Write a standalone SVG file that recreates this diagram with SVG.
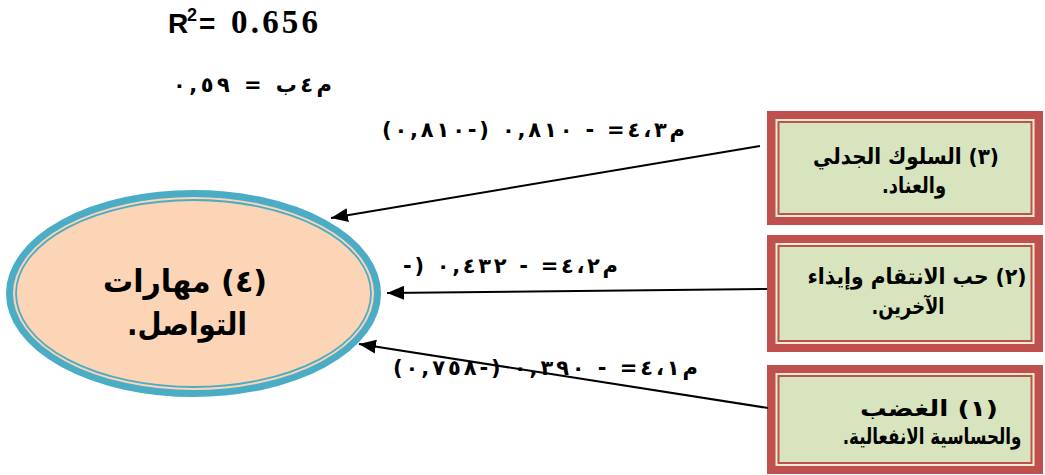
<svg xmlns="http://www.w3.org/2000/svg" width="1045" height="475" viewBox="0 0 1045 475">
<style>
.ar{font-family:"DejaVu Sans","Noto Sans",sans-serif;font-weight:bold;fill:#000}
.box{font-size:22px}
.lbl{font-size:21px;unicode-bidi:bidi-override;direction:ltr}
.conn{stroke:#000;stroke-width:2;fill:none;marker-end:url(#ah)}
</style>
<defs>
<marker id="ah" markerUnits="userSpaceOnUse" markerWidth="18" markerHeight="14" refX="17" refY="7" orient="auto">
<path d="M0,0 L17,7 L0,14 z" fill="#000"/>
</marker>
</defs>
<rect width="1045" height="475" fill="#fff"/>

<g id="stats">
<text font-family="Liberation Sans, sans-serif" font-weight="bold" font-size="28"><tspan x="168" y="33">R</tspan><tspan x="187" y="21" font-size="18">2</tspan><tspan x="199" y="33">=</tspan></text>
<text x="231" y="33" font-family="Liberation Serif, serif" font-weight="bold" font-size="33" textLength="87" lengthAdjust="spacing">0.656</text>
<text class="ar lbl" x="173" y="92" textLength="159" lengthAdjust="spacing">٠,٥٩ = ب٤م</text>
</g>

<g id="node4">
<ellipse cx="193.5" cy="293.5" rx="184" ry="100" fill="#fbd5b5" stroke="#4bacc6" stroke-width="7"/>
<ellipse cx="193.5" cy="293.5" rx="177.5" ry="93.5" fill="none" stroke="#4bacc6" stroke-width="1.8"/>
<text class="ar" font-size="31" text-anchor="middle" direction="rtl" x="185" y="292" textLength="164" lengthAdjust="spacingAndGlyphs">(٤) مهارات</text>
<text class="ar" font-size="31" text-anchor="middle" direction="rtl" x="187" y="335" textLength="120" lengthAdjust="spacingAndGlyphs">التواصل.</text>
</g>

<g id="node3">
<rect x="767" y="111" width="276" height="114" fill="#c0504d"/>
<rect x="775.5" y="119" width="259" height="98" fill="#eceed2"/>
<rect x="778.5" y="122" width="253" height="92" fill="#d7e4bd" stroke="#c0504d" stroke-width="2"/>
<text class="ar box" text-anchor="middle" direction="rtl" x="906" y="164" textLength="186" lengthAdjust="spacingAndGlyphs">(٣) السلوك الجدلي</text>
<text class="ar box" text-anchor="middle" direction="rtl" x="914" y="193" textLength="64" lengthAdjust="spacingAndGlyphs">والعناد.</text>
</g>

<g id="node2">
<rect x="767" y="235" width="276" height="117" fill="#c0504d"/>
<rect x="775.5" y="243" width="259" height="101" fill="#eceed2"/>
<rect x="778.5" y="246" width="253" height="95" fill="#d7e4bd" stroke="#c0504d" stroke-width="2"/>
<text class="ar box" text-anchor="middle" direction="rtl" x="917" y="284" textLength="219" lengthAdjust="spacingAndGlyphs">(٢) حب الانتقام وإيذاء</text>
<text class="ar box" text-anchor="middle" direction="rtl" x="908" y="314" textLength="73" lengthAdjust="spacingAndGlyphs">الآخرين.</text>
</g>

<g id="node1">
<rect x="767" y="365" width="276" height="109" fill="#c0504d"/>
<rect x="775.5" y="373" width="259" height="93" fill="#eceed2"/>
<rect x="778.5" y="376" width="253" height="87" fill="#d7e4bd" stroke="#c0504d" stroke-width="2"/>
<text class="ar box" text-anchor="middle" direction="rtl" x="929" y="416" textLength="138" lengthAdjust="spacingAndGlyphs">(١) الغضب</text>
<text class="ar box" text-anchor="middle" direction="rtl" x="0" y="0" transform="translate(932,444) scale(0.76,1)">والحساسية الانفعالية.</text>
</g>

<g id="connectors">
<line class="conn" x1="760" y1="146" x2="331" y2="218"/>
<line class="conn" x1="767" y1="289" x2="387" y2="293"/>
<line class="conn" x1="768" y1="408" x2="359" y2="344"/>
<text class="ar lbl" x="382" y="137" textLength="303" lengthAdjust="spacing">(٠,٨١٠-) ٠,٨١٠ - =٤،٣م</text>
<text class="ar lbl" x="403" y="273" textLength="215" lengthAdjust="spacing">-) ٠,٤٣٢ - =٤،٢م</text>
<text class="ar lbl" x="393" y="375" textLength="305" lengthAdjust="spacing">(٠,٧٥٨-) ٠,٣٩٠ - =٤،١م</text>
</g>
</svg>
